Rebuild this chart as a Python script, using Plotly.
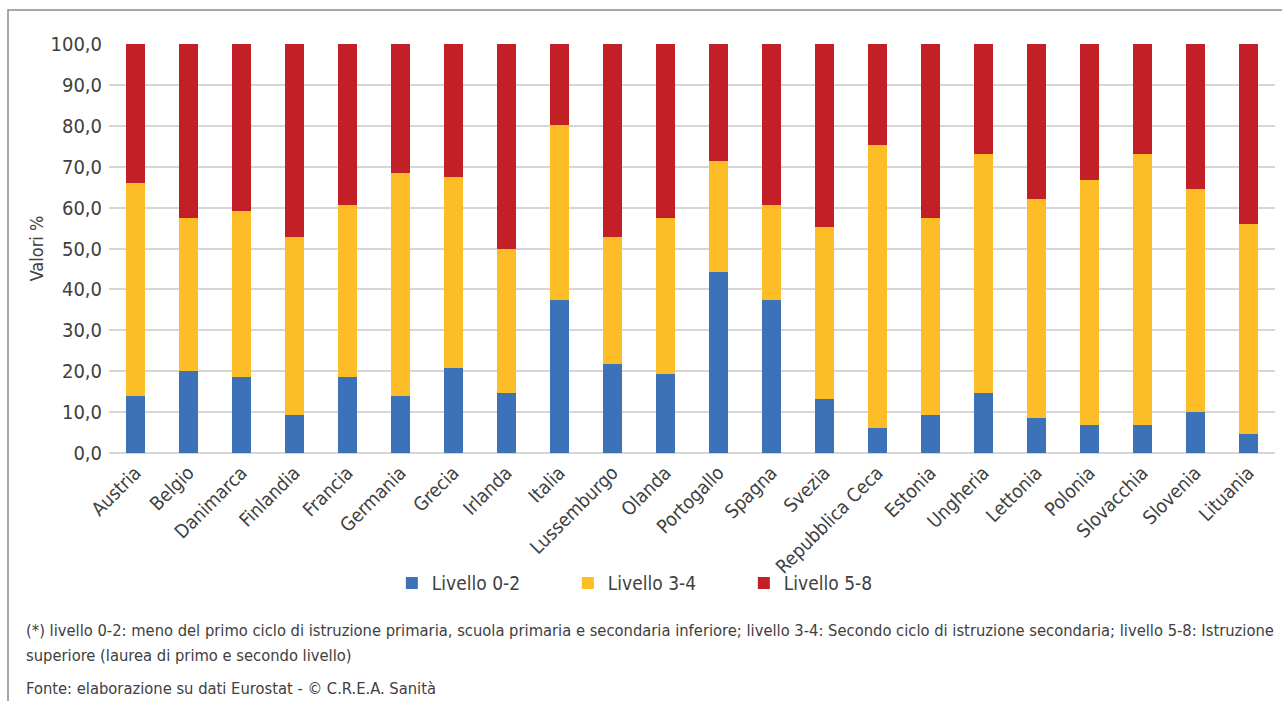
import plotly.graph_objects as go

paesi = ["Austria", "Belgio", "Danimarca", "Finlandia", "Francia", "Germania", "Grecia",
         "Irlanda", "Italia", "Lussemburgo", "Olanda", "Portogallo", "Spagna", "Svezia",
         "Repubblica Ceca", "Estonia", "Ungheria", "Lettonia", "Polonia", "Slovacchia",
         "Slovenia", "Lituania"]
livello_0_2 = [13.9, 20.1, 18.6, 9.2, 18.6, 13.9, 20.9, 14.7, 37.3, 21.8, 19.4, 44.3,
               37.3, 13.2, 6.1, 9.3, 14.7, 8.6, 6.9, 6.9, 10.0, 4.6]
livello_3_4 = [52.2, 37.4, 40.5, 43.6, 42.0, 54.5, 46.7, 35.1, 42.8, 31.1, 38.1, 27.2,
               23.4, 42.0, 69.3, 48.2, 58.4, 53.6, 59.9, 66.2, 54.5, 51.4]
livello_5_8 = [round(100 - a - b, 1) for a, b in zip(livello_0_2, livello_3_4)]

FONT = "DejaVu Sans Condensed, Liberation Sans Narrow, Arial Narrow, sans-serif"
TXT = "#404040"

fig = go.Figure()
for name, vals, col in [("Livello 0-2", livello_0_2, "#3D72B9"),
                        ("Livello 3-4", livello_3_4, "#FDBD27"),
                        ("Livello 5-8", livello_5_8, "#C31F26")]:
    fig.add_bar(x=paesi, y=vals, name=name, marker_color=col, marker_line_width=0)

fig.update_layout(
    barmode="stack", bargap=0.635,
    width=1282, height=701,
    margin=dict(l=109, r=7, t=44, b=248),
    paper_bgcolor="white", plot_bgcolor="white",
    separators=",.",
    font=dict(family=FONT, color=TXT, size=18),
    showlegend=True,
    legend=dict(orientation="h", x=0.469, xanchor="center", y=-0.318, yanchor="middle",
                font=dict(size=19, family=FONT, color=TXT), traceorder="normal",
                entrywidth=131, bgcolor="rgba(0,0,0,0)"),
)
fig.update_xaxes(tickangle=-45, tickfont=dict(size=19), showgrid=False, showline=False,
                 ticks="", ticklabelstandoff=4)
fig.update_yaxes(range=[0, 100], dtick=10, tickformat=".1f", gridcolor="#D6D6D6",
                 gridwidth=2, zeroline=True, zerolinecolor="#D6D6D6", zerolinewidth=2,
                 tickfont=dict(size=20), ticks="", ticklabelstandoff=6,
                 title=dict(text="Valori %", font=dict(size=18), standoff=2))

# outer frame
fig.add_shape(type="rect", xref="paper", yref="paper",
              x0=(8 - 109) / 1166, x1=(1295 - 109) / 1166,
              y0=(453 - 720) / 409, y1=(453 - 10) / 409,
              line=dict(color="#8C8C8C", width=1.5), fillcolor="rgba(0,0,0,0)", layer="below")

note1 = ("(*) livello 0-2: meno del primo ciclo di istruzione primaria, scuola primaria e "
         "secondaria inferiore; livello 3-4: Secondo ciclo di istruzione secondaria; "
         "livello 5-8: Istruzione")
note2 = "superiore (laurea di primo e secondo livello)"
note3 = "Fonte: elaborazione su dati Eurostat - © C.R.E.A. Sanità"
for txt, py in [(note1, 630), (note2, 655), (note3, 688)]:
    fig.add_annotation(text=txt, xref="paper", yref="paper", x=(24 - 109) / 1166,
                       y=(453 - py) / 409, xanchor="left", yanchor="middle",
                       showarrow=False, font=dict(size=16.4, family=FONT, color=TXT))

fig.write_html("out.html")
